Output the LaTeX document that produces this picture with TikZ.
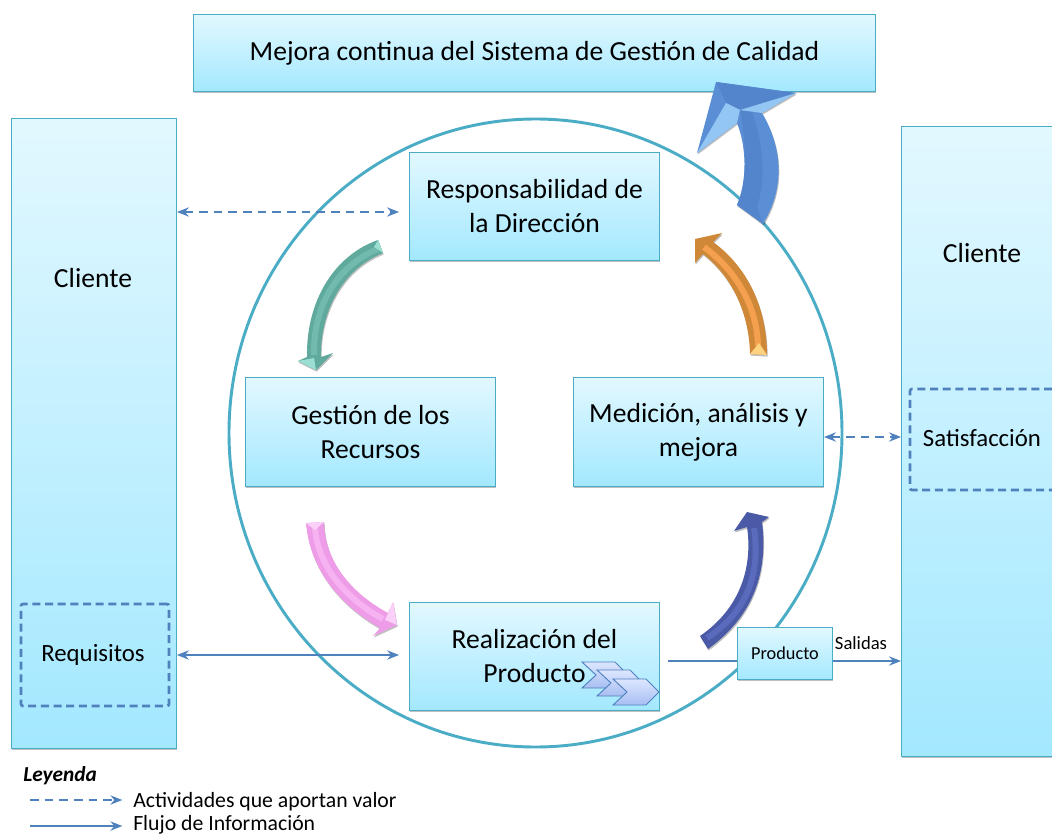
\documentclass[tikz,border=0pt]{standalone}
\usepackage{fontspec}
\setmainfont{Carlito}
\usetikzlibrary{arrows.meta,shadows,shapes.geometric}
\definecolor{boxtop}{HTML}{E2F8FF}
\definecolor{boxbot}{HTML}{A3E8FF}
\definecolor{boxline}{HTML}{4BACC6}
\definecolor{flowblue}{HTML}{4F81BD}
\definecolor{tealbase}{HTML}{5FA99D}
\definecolor{tealband}{HTML}{72BAAE}
\definecolor{teallight}{HTML}{9ADFD2}
\definecolor{pinkbase}{HTML}{EE9CE8}
\definecolor{pinkband}{HTML}{F6B2F1}
\definecolor{pinklight}{HTML}{FBD0F8}
\definecolor{navybase}{HTML}{4A5AA6}
\definecolor{navyband}{HTML}{5A6ABC}
\definecolor{orangebase}{HTML}{CF8738}
\definecolor{orangeband}{HTML}{F5A04E}
\definecolor{orangelight}{HTML}{FFD27F}
\definecolor{bluebase}{HTML}{5B8FD5}
\definecolor{bluedark}{HTML}{5385CC}
\definecolor{bluelight}{HTML}{93C6F3}
\definecolor{chevtop}{HTML}{DCE6FF}
\definecolor{chevbot}{HTML}{A8BEF2}

\begin{document}
\begin{tikzpicture}[
  x=.75pt,y=-.75pt,
  every node/.style={align=center},
  size/.style 2 args={minimum width=#1*.75pt,minimum height=#2*.75pt},
  softshadow/.style={drop shadow={shadow xshift=.5pt,shadow yshift=-1.2pt,opacity=.25,fill=black}},
  block/.style={draw=boxline,line width=.7pt,top color=boxtop,bottom color=boxbot,softshadow,inner sep=0pt,font=\fontsize{20.7}{25.5}\selectfont},
  dashblock/.style={draw=flowblue,line width=2pt,dash pattern=on 6pt off 3.5pt,rounded corners=1.5pt,inner sep=0pt},
  txt/.style={inner sep=0pt,font=\fontsize{20.7}{25.5}\selectfont},
  midtxt/.style={inner sep=0pt,font=\fontsize{18.6}{22}\selectfont},
  legend/.style={inner sep=0pt,anchor=west,font=\fontsize{16.3}{19}\selectfont},
  flow/.style={-{Stealth[length=9pt,width=7pt,inset=3pt]},line width=1.1pt,draw=flowblue},
  flowboth/.style={{Stealth[length=9pt,width=7pt,inset=3pt]}-{Stealth[length=9pt,width=7pt,inset=3pt]},line width=1.1pt,draw=flowblue},
  flowdash/.style={flow,dash pattern=on 6.5pt off 4.5pt},
  flowbothdash/.style={flowboth,dash pattern=on 6.5pt off 4.5pt},
  chevron/.style={draw=flowblue,line width=.7pt,top color=chevtop,bottom color=chevbot}]

  \clip (0,0) rectangle (1052,835);

  % The big circle sits behind everything
  \node[draw=boxline,line width=2.2pt,ellipse,inner sep=0pt,size={613}{628}] (Circle) at (535.5,433) {};

  % Position the boxes
  \node[block,size={682}{77}] (Mejora) at (534.5,53) {\raisebox{1.5pt}{Mejora continua del Sistema de Gestión de Calidad}};
  \node[block,size={165}{630}] (ClienteL) at (94,433.5) {};
  \node[block,size={160}{630}] (ClienteR) at (981.5,441.5) {};
  \node[block,size={250}{108}] (Resp) at (534.5,206.5) {Responsabilidad de\\la Dirección};
  \node[block,size={250}{109}] (Gestion) at (370.5,432) {Gestión de los\\Recursos};
  \node[block,size={250}{109}] (Medicion) at (698.5,432) {Medición, análisis y\\mejora};
  \node[block,size={250}{108}] (Realizacion) at (534.5,656.5) {Realización del\\Producto};

  % Texts and dashed boxes on the clients
  \node[txt] (ClienteLtxt) at (93,278) {Cliente};
  \node[txt] (ClienteRtxt) at (982,253) {Cliente};
  \node[dashblock,size={148}{102}] (Requisitos) at (95,655) {};
  \node[midtxt] (Reqtxt) at (93,655) {Requisitos};
  \node[dashblock,size={144}{101}] (Satisfaccion) at (982,439.5) {};
  \node[midtxt] (Sattxt) at (982,438) {Satisfacción};

  % The process chevrons
  \foreach \dx/\dy in {-31/-17,-16/-9,0/0}
    \path[chevron,shift={(\dx,\dy)}] (613,679) -- (646,679) -- (659,692) -- (646,705) -- (613,705) -- (627,692) -- cycle;

  % Teal arrow
  \fill[softshadow,fill=tealbase] (378,240) .. controls (335,255) and (306,300) .. (307,357) -- (298,361) -- (316,370) -- (333,353) -- (321,357) .. controls (320,315) and (340,270) .. (383,253) -- cycle;
  \draw[line width=4.5pt,color=tealband] (378,249) .. controls (338,265) and (313,305) .. (314,355);
  \fill[color=teallight] (298,361) -- (314,358) -- (316,370) -- cycle;
  \fill[color=teallight] (378,240) -- (383,253) -- (374,247) -- cycle;

  % Pink arrow
  \fill[softshadow,fill=pinkbase] (306,523) .. controls (310,570) and (340,605) .. (380,628) -- (373,636) -- (397,625) -- (393,602) -- (388,613) .. controls (355,595) and (325,565) .. (324,522) -- cycle;
  \draw[line width=4.5pt,color=pinkband] (315,528) .. controls (318,568) and (348,600) .. (383,619);
  \fill[color=pinklight] (306,523) -- (324,522) -- (315,530) -- cycle;
  \fill[color=pinklight] (393,602) -- (397,625) -- (385,620) -- cycle;

  % Navy arrow
  \fill[softshadow,fill=navybase] (700,636) .. controls (745,605) and (752,560) .. (747,527) -- (734,531) -- (747,512) -- (769,517) -- (762,522) .. controls (768,570) and (755,615) .. (708,649) -- cycle;
  \draw[line width=4.5pt,color=navyband] (707,638) .. controls (750,610) and (760,570) .. (754,528);

  % Orange arrow
  \fill[softshadow,fill=orangebase] (750,354) .. controls (749,310) and (730,275) .. (703,254) -- (695,263) -- (695,239) -- (722,233) -- (713,242) .. controls (745,265) and (767,305) .. (767,355) -- cycle;
  \draw[line width=4.5pt,color=orangeband] (758,346) .. controls (757,308) and (738,272) .. (704,247);
  \fill[color=orangelight] (750,354) -- (767,355) -- (759,343) -- cycle;

  % Blue arrow towards the improvement box
  \fill[softshadow,fill=bluebase] (737,205) .. controls (748,180) and (746,145) .. (737,123) -- (697,153) -- (716,82) -- (796,93) -- (762,113) .. controls (784,150) and (784,190) .. (763,224) -- cycle;
  \fill[color=bluedark] (737,205) .. controls (748,180) and (746,145) .. (740,110) -- (752,112) .. controls (764,145) and (766,180) .. (757,207) -- cycle;
  \fill[color=bluedark] (716,82) -- (796,93) -- (740,110) -- (726,103) -- cycle;
  \fill[color=bluelight] (796,93) -- (762,113) -- (740,110) -- cycle;
  \fill[color=bluelight] (697,153) -- (726,103) -- (740,110) -- (737,123) -- cycle;
  \fill[color=bluedark] (737,205) -- (757,207) -- (763,224) -- cycle;

  % Draw the arrows between the nodes
  \draw[flowbothdash] (ClienteL.east |- 0,212) -- ([xshift=-7.5pt]Resp.west |- 0,212);
  \draw[flowbothdash] ([yshift=-3.75pt]Medicion.east) -- (ClienteR.west |- 0,437);
  \draw[flowboth] (ClienteL.east |- Requisitos) -- ([xshift=-7.5pt]Realizacion.west |- Requisitos);
  \draw[flow] ([xshift=6pt]Realizacion.east |- 0,661) -- (ClienteR.west |- 0,661);

  \node[block,size={95}{52},font=\fontsize{13.7}{16}\selectfont] (Producto) at (785,653.5) {Producto};
  \node[inner sep=0pt,font=\fontsize{14}{16}\selectfont] (Salidas) at (861,643) {Salidas};

  % Legend
  \node[legend,font=\fontsize{16}{19}\bfseries\itshape\selectfont] (Leyenda) at (23,776) {Leyenda};
  \coordinate (DashStart) at (30,800);
  \coordinate (LineStart) at (30,826);
  \node[legend] (DashTxt) at (133,801.5) {Actividades que aportan valor};
  \node[legend] (LineTxt) at (133,824.5) {Flujo de Información};
  \draw[flowdash] (DashStart) -- ([xshift=-8pt]DashTxt.west |- DashStart);
  \draw[flow] (LineStart) -- ([xshift=-8pt]LineTxt.west |- LineStart);
\end{tikzpicture}
\end{document}
